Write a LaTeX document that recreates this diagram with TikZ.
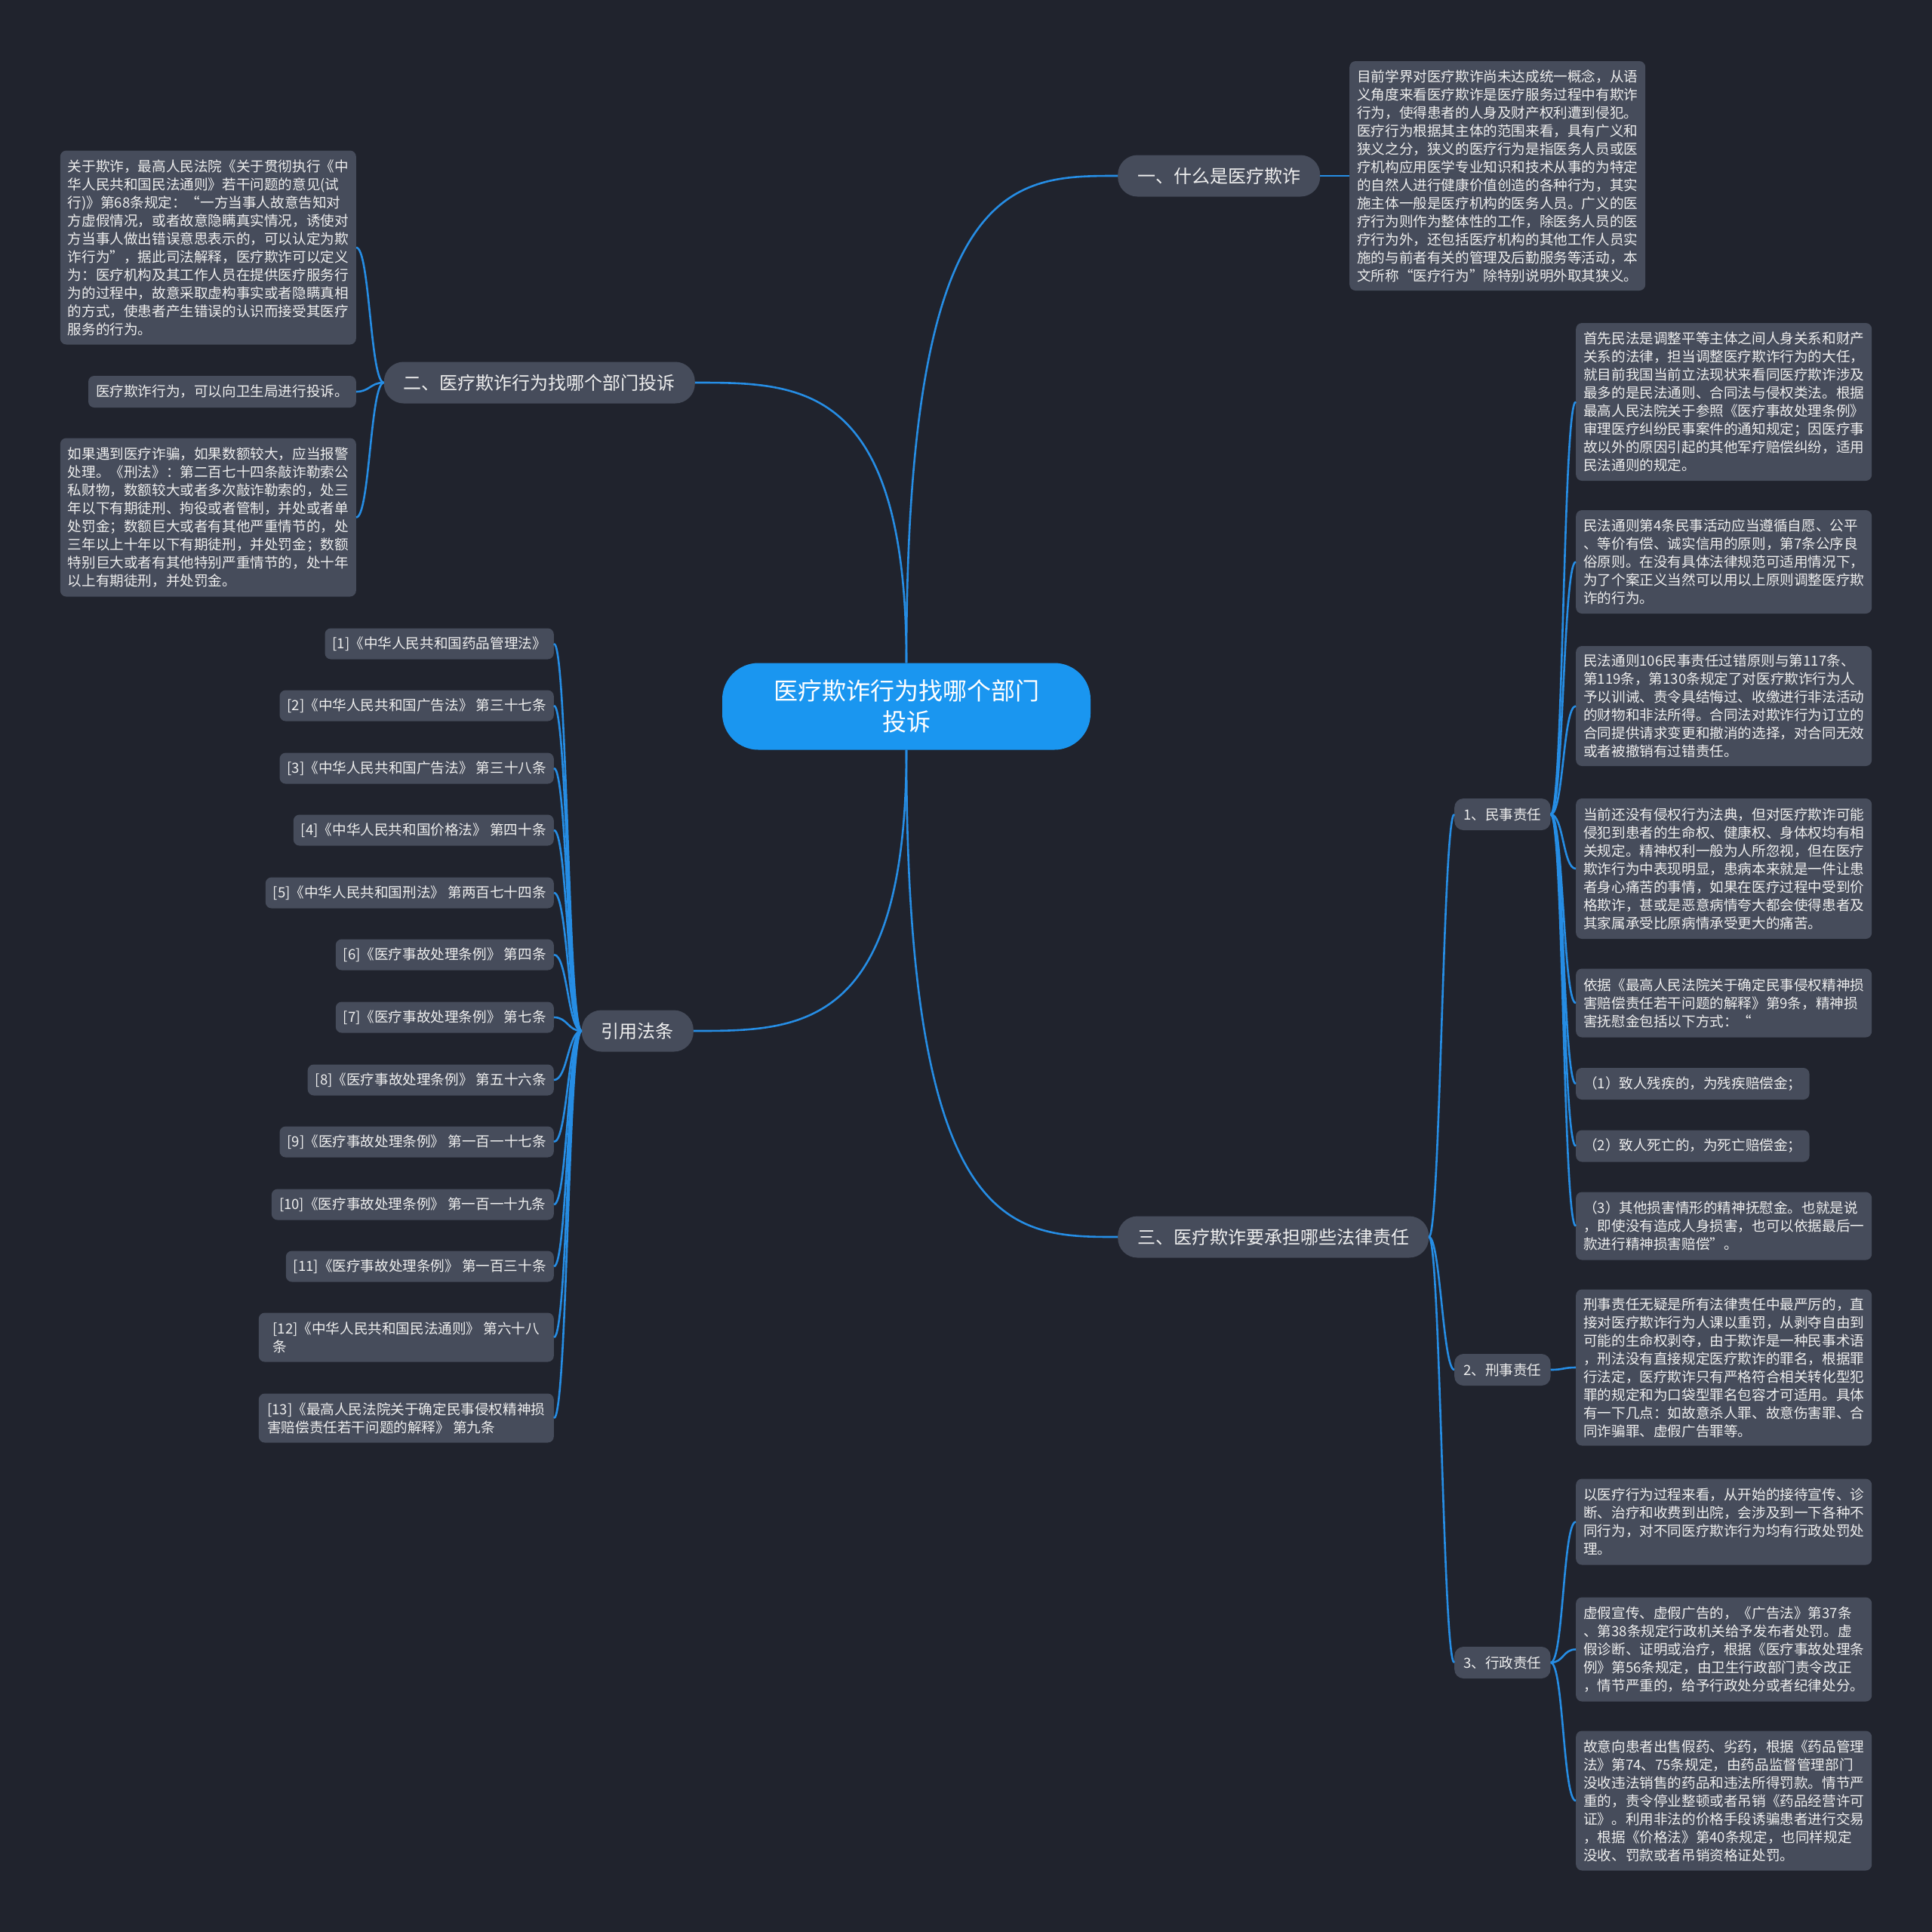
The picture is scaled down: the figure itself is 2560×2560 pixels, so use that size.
\documentclass[tikz,border=0pt]{standalone}
\usepackage{fontspec}
\newfontfamily\cjk{Noto Sans CJK SC}
\definecolor{bg}{RGB}{32,35,45}
\definecolor{boxc}{RGB}{70,76,91}
\definecolor{linec}{RGB}{38,141,228}
\definecolor{mainc}{RGB}{26,150,240}
\definecolor{txt}{RGB}{238,238,238}
\begin{document}
\begin{tikzpicture}[x=1pt,y=-1pt,
  leaf/.style={fill=boxc, rounded corners=8pt, text=txt, font=\cjk\fontsize{18.6}{24}\selectfont, align=left, inner xsep=10pt, inner ysep=3pt, minimum width=392pt},
  lone/.style={fill=boxc, rounded corners=26pt, text=txt, font=\cjk\fontsize{24}{30}\selectfont, inner xsep=26pt, inner ysep=0pt, minimum height=55pt},
  ltwo/.style={fill=boxc, rounded corners=12pt, text=txt, font=\cjk\fontsize{18.6}{24}\selectfont, inner xsep=12pt, inner ysep=0pt, minimum height=42pt, minimum width=127pt},
  conn/.style={draw=linec, line width=2.6pt}]
\useasboundingbox (0,0) rectangle (2560,2560);
\fill[bg] (0,0) rectangle (2560,2560);

% central
\node[fill=mainc, rounded corners=48pt, text=white, font=\cjk\fontsize{32}{41}\selectfont, align=center, minimum width=488pt, minimum height=115pt, inner sep=0pt] (c) at (1201,936) {医疗欺诈行为找哪个部门\\投诉};

% level 1
\node[lone, anchor=west] (one) at (1481,233) {一、什么是医疗欺诈};
\node[lone, anchor=east] (two) at (921,507) {二、医疗欺诈行为找哪个部门投诉};
\node[lone, anchor=east] (law) at (919,1366) {引用法条};
\node[lone, anchor=west] (three) at (1481,1639) {三、医疗欺诈要承担哪些法律责任};

% level 2
\node[ltwo, anchor=west] (m1) at (1927,1079) {1、民事责任};
\node[ltwo, anchor=west] (m2) at (1927,1815) {2、刑事责任};
\node[ltwo, anchor=west] (m3) at (1927,2203) {3、行政责任};

% top right
\node[leaf, anchor=west, minimum height=304pt] (t) at (1788,233) {目前学界对医疗欺诈尚未达成统一概念，从语\\
义角度来看医疗欺诈是医疗服务过程中有欺诈\\
行为，使得患者的人身及财产权利遭到侵犯。\\
医疗行为根据其主体的范围来看，具有广义和\\
狭义之分，狭义的医疗行为是指医务人员或医\\
疗机构应用医学专业知识和技术从事的为特定\\
的自然人进行健康价值创造的各种行为，其实\\
施主体一般是医疗机构的医务人员。广义的医\\
疗行为则作为整体性的工作，除医务人员的医\\
疗行为外，还包括医疗机构的其他工作人员实\\
施的与前者有关的管理及后勤服务等活动，本\\
文所称“医疗行为”除特别说明外取其狭义。};

% left boxes
\node[leaf, anchor=east, minimum height=257pt] (l1) at (472,328) {关于欺诈，最高人民法院《关于贯彻执行《中\\
华人民共和国民法通则》若干问题的意见(试\\
行)》第68条规定：“一方当事人故意告知对\\
方虚假情况，或者故意隐瞒真实情况，诱使对\\
方当事人做出错误意思表示的，可以认定为欺\\
诈行为”，据此司法解释，医疗欺诈可以定义\\
为：医疗机构及其工作人员在提供医疗服务行\\
为的过程中，故意采取虚构事实或者隐瞒真相\\
的方式，使患者产生错误的认识而接受其医疗\\
服务的行为。};
\node[leaf, anchor=east, minimum width=354pt, minimum height=42pt] (l2) at (472,519) {医疗欺诈行为，可以向卫生局进行投诉。};
\node[leaf, anchor=east, minimum height=210pt] (l3) at (472,685.5) {如果遇到医疗诈骗，如果数额较大，应当报警\\
处理。《刑法》：第二百七十四条敲诈勒索公\\
私财物，数额较大或者多次敲诈勒索的，处三\\
年以下有期徒刑、拘役或者管制，并处或者单\\
处罚金；数额巨大或者有其他严重情节的，处\\
三年以上十年以下有期徒刑，并处罚金；数额\\
特别巨大或者有其他特别严重情节的，处十年\\
以上有期徒刑，并处罚金。};

% references
\node[leaf, anchor=east, minimum width=302pt, minimum height=41pt] (f1) at (734,853) {[1]《中华人民共和国药品管理法》};
\node[leaf, anchor=east, minimum width=363pt, minimum height=41pt] (f2) at (734,935) {[2]《中华人民共和国广告法》 第三十七条};
\node[leaf, anchor=east, minimum width=363pt, minimum height=41pt] (f3) at (734,1018) {[3]《中华人民共和国广告法》 第三十八条};
\node[leaf, anchor=east, minimum width=345pt, minimum height=41pt] (f4) at (734,1100) {[4]《中华人民共和国价格法》 第四十条};
\node[leaf, anchor=east, minimum width=382pt, minimum height=41pt] (f5) at (734,1183) {[5]《中华人民共和国刑法》 第两百七十四条};
\node[leaf, anchor=east, minimum width=289pt, minimum height=41pt] (f6) at (734,1265) {[6]《医疗事故处理条例》 第四条};
\node[leaf, anchor=east, minimum width=289pt, minimum height=41pt] (f7) at (734,1348) {[7]《医疗事故处理条例》 第七条};
\node[leaf, anchor=east, minimum width=326pt, minimum height=41pt] (f8) at (734,1431) {[8]《医疗事故处理条例》 第五十六条};
\node[leaf, anchor=east, minimum width=363pt, minimum height=41pt] (f9) at (734,1513) {[9]《医疗事故处理条例》 第一百一十七条};
\node[leaf, anchor=east, minimum width=374pt, minimum height=41pt] (f10) at (734,1596) {[10]《医疗事故处理条例》 第一百一十九条};
\node[leaf, anchor=east, minimum width=355pt, minimum height=41pt] (f11) at (734,1678) {[11]《医疗事故处理条例》 第一百三十条};
\node[leaf, anchor=east, minimum width=391pt, minimum height=65pt] (f12) at (734,1772) {[12]《中华人民共和国民法通则》 第六十八\\
条};
\node[leaf, anchor=east, minimum width=391pt, minimum height=65pt] (f13) at (734,1879) {[13]《最高人民法院关于确定民事侵权精神损\\
害赔偿责任若干问题的解释》 第九条};

% right leaves
\node[leaf, anchor=west, minimum height=209pt] (r1) at (2088,532.5) {首先民法是调整平等主体之间人身关系和财产\\
关系的法律，担当调整医疗欺诈行为的大任，\\
就目前我国当前立法现状来看同医疗欺诈涉及\\
最多的是民法通则、合同法与侵权类法。根据\\
最高人民法院关于参照《医疗事故处理条例》\\
审理医疗纠纷民事案件的通知规定；因医疗事\\
故以外的原因引起的其他军疗赔偿纠纷，适用\\
民法通则的规定。};
\node[leaf, anchor=west, minimum height=137pt] (r2) at (2088,744.5) {民法通则第4条民事活动应当遵循自愿、公平\\
、等价有偿、诚实信用的原则，第7条公序良\\
俗原则。在没有具体法律规范可适用情况下，\\
为了个案正义当然可以用以上原则调整医疗欺\\
诈的行为。};
\node[leaf, anchor=west, minimum height=159pt] (r3) at (2088,935.5) {民法通则106民事责任过错原则与第117条、\\
第119条，第130条规定了对医疗欺诈行为人\\
予以训诫、责令具结悔过、收缴进行非法活动\\
的财物和非法所得。合同法对欺诈行为订立的\\
合同提供请求变更和撤消的选择，对合同无效\\
或者被撤销有过错责任。};
\node[leaf, anchor=west, minimum height=186pt] (r4) at (2088,1151) {当前还没有侵权行为法典，但对医疗欺诈可能\\
侵犯到患者的生命权、健康权、身体权均有相\\
关规定。精神权利一般为人所忽视，但在医疗\\
欺诈行为中表现明显，患病本来就是一件让患\\
者身心痛苦的事情，如果在医疗过程中受到价\\
格欺诈，甚或是恶意病情夸大都会使得患者及\\
其家属承受比原病情承受更大的痛苦。};
\node[leaf, anchor=west, minimum height=91pt] (r5) at (2088,1329) {依据《最高人民法院关于确定民事侵权精神损\\
害赔偿责任若干问题的解释》第9条，精神损\\
害抚慰金包括以下方式：“};
\node[leaf, anchor=west, minimum width=309pt, minimum height=42pt] (r6) at (2088,1436) {（1）致人残疾的，为残疾赔偿金；};
\node[leaf, anchor=west, minimum width=309pt, minimum height=42pt] (r7) at (2088,1518.5) {（2）致人死亡的，为死亡赔偿金；};
\node[leaf, anchor=west, minimum height=90pt] (r8) at (2088,1624.5) {（3）其他损害情形的精神抚慰金。也就是说\\
，即使没有造成人身损害，也可以依据最后一\\
款进行精神损害赔偿”。};
\node[leaf, anchor=west, minimum height=207pt] (r9) at (2088,1812) {刑事责任无疑是所有法律责任中最严厉的，直\\
接对医疗欺诈行为人课以重罚，从剥夺自由到\\
可能的生命权剥夺，由于欺诈是一种民事术语\\
，刑法没有直接规定医疗欺诈的罪名，根据罪\\
行法定，医疗欺诈只有严格符合相关转化型犯\\
罪的规定和为口袋型罪名包容才可适用。具体\\
有一下几点：如故意杀人罪、故意伤害罪、合\\
同诈骗罪、虚假广告罪等。};
\node[leaf, anchor=west, minimum height=114pt] (r10) at (2088,2016.5) {以医疗行为过程来看，从开始的接待宣传、诊\\
断、治疗和收费到出院，会涉及到一下各种不\\
同行为，对不同医疗欺诈行为均有行政处罚处\\
理。};
\node[leaf, anchor=west, minimum height=138pt] (r11) at (2088,2185.5) {虚假宣传、虚假广告的，《广告法》第37条\\
、第38条规定行政机关给予发布者处罚。虚\\
假诊断、证明或治疗，根据《医疗事故处理条\\
例》第56条规定，由卫生行政部门责令改正\\
，情节严重的，给予行政处分或者纪律处分。};
\node[leaf, anchor=west, minimum height=185pt] (r12) at (2088,2386) {故意向患者出售假药、劣药，根据《药品管理\\
法》第74、75条规定，由药品监督管理部门\\
没收违法销售的药品和违法所得罚款。情节严\\
重的，责令停业整顿或者吊销《药品经营许可\\
证》。利用非法的价格手段诱骗患者进行交易\\
，根据《价格法》第40条规定，也同样规定\\
没收、罚款或者吊销资格证处罚。};

% connectors from centre
\draw[conn] (c.north) .. controls (c.north |- one.west) and +(-140,0) .. (one.west);
\draw[conn] (c.north) .. controls (c.north |- two.east) and +(140,0) .. (two.east);
\draw[conn] (c.south) .. controls (c.south |- law.east) and +(141,0) .. (law.east);
\draw[conn] (c.south) .. controls (c.south |- three.west) and +(-140,0) .. (three.west);

\draw[conn] (one.east) -- (t.west);

\foreach \n in {l1,l2,l3}
  \draw[conn] (two.west) .. controls +(-18,0) and +(18,0) .. (\n.east);
\foreach \n in {f1,f2,f3,f4,f5,f6,f7,f8,f9,f10,f11,f12,f13}
  \draw[conn] (law.west) .. controls +(-18,0) and +(18,0) .. (\n.east);
\foreach \n in {m1,m2,m3}
  \draw[conn] (three.east) .. controls +(15,0) and +(-15,0) .. (\n.west);
\foreach \n in {r1,r2,r3,r4,r5,r6,r7,r8}
  \draw[conn] (m1.east) .. controls +(17,0) and +(-17,0) .. (\n.west);
\draw[conn] (m2.east) .. controls +(17,0) and +(-17,0) .. (r9.west);
\foreach \n in {r10,r11,r12}
  \draw[conn] (m3.east) .. controls +(17,0) and +(-17,0) .. (\n.west);
\end{tikzpicture}
\end{document}
